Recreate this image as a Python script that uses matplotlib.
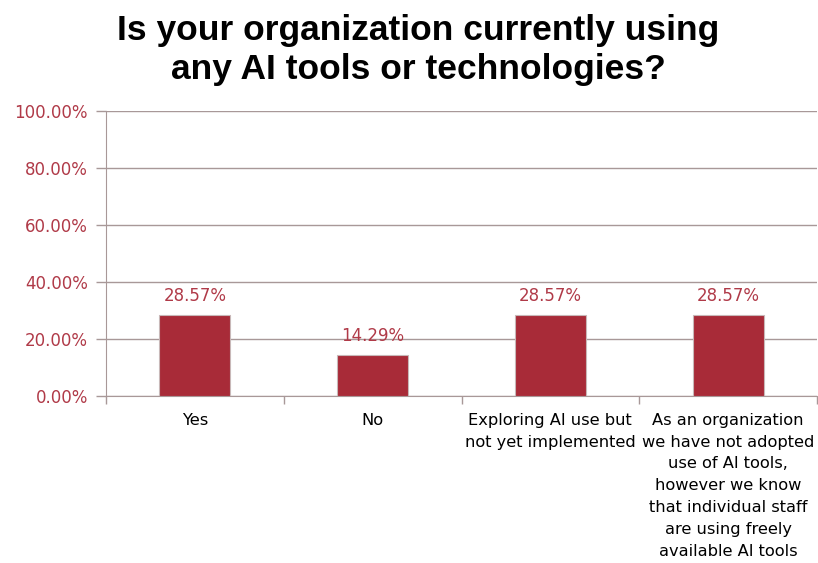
import matplotlib
matplotlib.use("Agg")
import matplotlib.pyplot as plt
import numpy as np
from matplotlib.ticker import FixedLocator

categories = [
    "Yes",
    "No",
    "Exploring AI use but\nnot yet implemented",
    "As an organization\nwe have not adopted\nuse of AI tools,\nhowever we know\nthat individual staff\nare using freely\navailable AI tools",
]
values = [28.57, 14.29, 28.57, 28.57]
y_ticks = [0, 20, 40, 60, 80, 100]
title = "Is your organization currently using\nany AI tools or technologies?"

bar_color = "#a82b38"
label_red = "#b03a48"
grid_color = "#a89898"
body_font = "DejaVu Sans"

fig = plt.figure(figsize=(8.18, 5.63), dpi=100)
ax = fig.add_axes([106 / 818, 1 - 396 / 563, 711 / 818, 285 / 563])

x = np.arange(len(categories))
ax.bar(x, values, width=0.4, color=bar_color, edgecolor="#c8b8b8", linewidth=0.8, zorder=3)

ax.set_xlim(-0.5, len(categories) - 0.5)
ax.set_ylim(0, 100)
ax.yaxis.set_major_locator(FixedLocator(y_ticks))
ax.set_yticklabels([f"{v:.2f}%" for v in y_ticks], color=label_red,
                   fontsize=12, family=body_font)
ax.grid(axis="y", color=grid_color, linewidth=1.0, zorder=0)
ax.tick_params(axis="y", length=7, color=grid_color, width=1.0, pad=6)

# category ticks sit between the bars
ax.set_xticks(np.arange(-0.5, len(categories)), minor=True)
ax.set_xticks(x)
ax.set_xticklabels(categories, fontsize=11.7, family=body_font, color="black",
                   linespacing=1.57, va="top")
ax.tick_params(axis="x", which="major", length=0, pad=12)
ax.tick_params(axis="x", which="minor", length=6, color=grid_color, width=1.0)

for side in ["top", "right"]:
    ax.spines[side].set_visible(False)
ax.spines["left"].set_color(grid_color)
ax.spines["bottom"].set_color(grid_color)

for xi, v in zip(x, values):
    ax.text(xi, v + 3.5, f"{v:.2f}%", ha="center", va="bottom",
            color=label_red, fontsize=12, family=body_font)

fig.text(0.511, 1 - 50 / 563, title, ha="center", va="center",
         fontsize=25.5, fontweight="bold", family="Liberation Sans",
         linespacing=1.2, color="black")

fig.savefig("out.png", dpi=100)
